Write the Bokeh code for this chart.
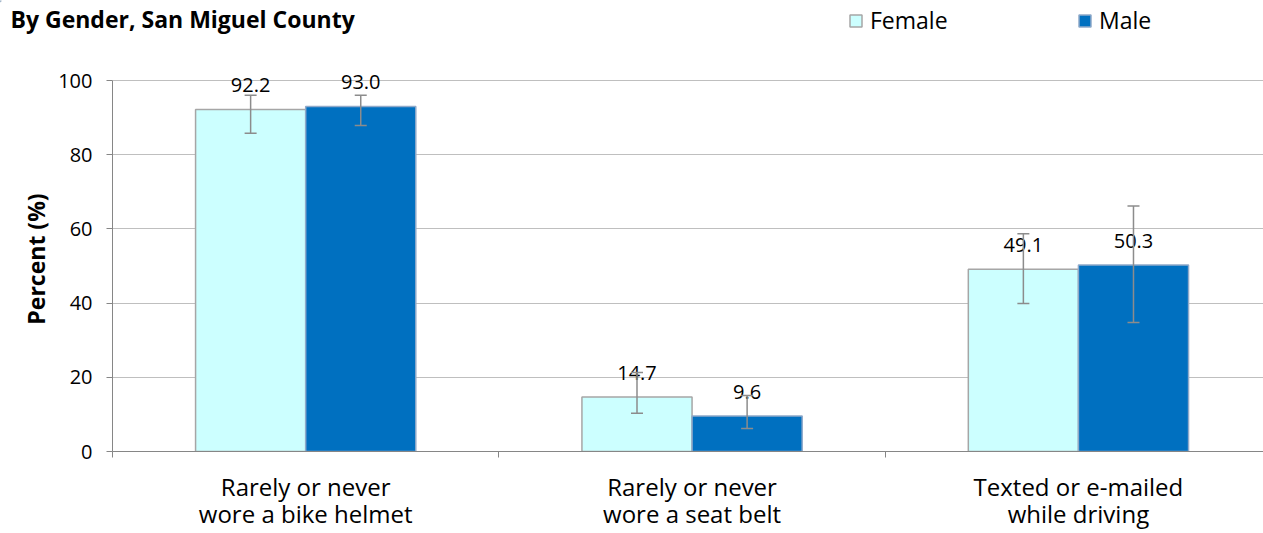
from bokeh.plotting import figure
from bokeh.layouts import column
from bokeh.models import (Range1d, FixedTicker, Whisker, TeeHead, ColumnDataSource,
                          Legend, LegendItem, LinearAxis, Label)
from bokeh.core.properties import value
from bokeh.embed import file_html
from bokeh.resources import INLINE

title_text = "By Gender, San Miguel County"
series_names = ["Female", "Male"]
categories_line1 = ["Rarely or never", "Rarely or never", "Texted or e-mailed"]
categories_line2 = ["wore a bike helmet", "wore a seat belt", "while driving"]
female = [92.2, 14.7, 49.1]
male = [93.0, 9.6, 50.3]
female_lo = [85.8, 10.3, 39.9]
female_hi = [96.0, 21.3, 58.7]
male_lo = [87.9, 6.2, 34.8]
male_hi = [96.0, 15.1, 66.2]
y_ticks = [0, 20, 40, 60, 80, 100]

FONT = "Open Sans"
BAR_W = 0.285
F_FILL, F_LINE = "#ccffff", "#a6a6a6"
M_FILL, M_LINE = "#0070c0", "#8fa9c9"
W = 1263
HEADER_H = 66
idx = list(range(len(female)))
centers = [i + 0.5 for i in idx]

src_f = ColumnDataSource(dict(x=[c - BAR_W / 2 for c in centers], top=female,
                              lo=female_lo, hi=female_hi,
                              lab=[f"{v:.1f}" for v in female]))
src_m = ColumnDataSource(dict(x=[c + BAR_W / 2 for c in centers], top=male,
                              lo=male_lo, hi=male_hi,
                              lab=[f"{v:.1f}" for v in male]))

# ---------- header: title + legend ----------
hdr = figure(width=W, height=HEADER_H, output_backend="svg", toolbar_location=None,
             title=None, x_range=Range1d(0, W), y_range=Range1d(HEADER_H, 0),
             x_axis_location=None, y_axis_location=None,
             min_border=0, min_border_left=0, min_border_right=0,
             min_border_top=0, min_border_bottom=0)
hdr.frame_align = False
hdr.outline_line_color = None
hdr.xgrid.visible = False
hdr.ygrid.visible = False
hdr.border_fill_color = "white"
hdr.add_layout(Label(x=10, y=18, text=title_text, text_baseline="alphabetic",
                     text_align="left", text_font=FONT, text_font_style="bold",
                     text_font_size="23px", text_color="black"))
# legend swatches: off-screen proxies styled like the bars
df = hdr.vbar(x=[-1000], top=[1], width=1, fill_color=F_FILL, line_color=F_LINE, line_width=1.5)
dm = hdr.vbar(x=[-1000], top=[1], width=1, fill_color=M_FILL, line_color=M_LINE, line_width=1.5)
legend = Legend(items=[LegendItem(label=series_names[0], renderers=[df]),
                       LegendItem(label=series_names[1], renderers=[dm])],
                orientation="horizontal", location=(848, HEADER_H - 36),
                glyph_width=15, glyph_height=15, label_standoff=7,
                label_width=195, spacing=12, padding=0, margin=0,
                border_line_color=None, background_fill_alpha=0,
                label_text_font=FONT, label_text_font_size="23px",
                label_text_color="black")
hdr.add_layout(legend, "center")

# ---------- main chart ----------
Y_TOP = 100 + (80 - HEADER_H) / 3.71
p = figure(width=W, height=533 - HEADER_H, output_backend="svg", toolbar_location=None,
           x_range=Range1d(0, 2.979), y_range=Range1d(0, Y_TOP),
           min_border_left=112, min_border_top=0, min_border_bottom=82,
           min_border_right=0)
p.frame_align = False
p.outline_line_color = None
p.background_fill_color = "white"
p.border_fill_color = "white"

p.xgrid.visible = False
p.ygrid.grid_line_color = "#bfbfbf"
p.ygrid.grid_line_width = 1
p.ygrid.ticker = FixedTicker(ticks=y_ticks)

p.yaxis.ticker = FixedTicker(ticks=y_ticks)
p.yaxis.bounds = (0, 100)
p.yaxis.axis_line_color = "#868686"
p.yaxis.major_tick_line_color = "#868686"
p.yaxis.major_tick_out = 6
p.yaxis.major_tick_in = 0
p.yaxis.minor_tick_line_color = None
p.yaxis.major_label_standoff = 14
p.yaxis.major_label_text_font = FONT
p.yaxis.major_label_text_font_size = "20px"
p.yaxis.major_label_text_color = "black"
p.yaxis.axis_label = "Percent (%)"
p.yaxis.axis_label_text_font = FONT
p.yaxis.axis_label_text_font_style = "bold"
p.yaxis.axis_label_text_font_size = "23px"
p.yaxis.axis_label_text_color = "black"
p.yaxis.axis_label_standoff = 3

p.xaxis.ticker = FixedTicker(ticks=centers, minor_ticks=[0, 1, 2, 3])
p.xaxis.major_label_overrides = {c: t for c, t in zip(centers, categories_line1)}
p.xaxis.axis_line_color = "#868686"
p.xaxis.major_tick_line_color = None
p.xaxis.major_tick_out = 0
p.xaxis.major_tick_in = 0
p.xaxis.minor_tick_line_color = "#868686"
p.xaxis.minor_tick_out = 6
p.xaxis.minor_tick_in = 0
p.xaxis.major_label_standoff = 12
p.xaxis.major_label_text_font = FONT
p.xaxis.major_label_text_font_size = "24px"
p.xaxis.major_label_text_color = "black"

ax2 = LinearAxis(ticker=FixedTicker(ticks=centers),
                 major_label_overrides={c: t for c, t in zip(centers, categories_line2)})
ax2.axis_line_color = None
ax2.major_tick_line_color = None
ax2.minor_tick_line_color = None
ax2.major_label_standoff = -15
ax2.major_label_text_font = FONT
ax2.major_label_text_font_size = "24px"
ax2.major_label_text_color = "black"
p.add_layout(ax2, "below")

rf = p.vbar(x="x", top="top", width=BAR_W, bottom=0, source=src_f,
            fill_color=F_FILL, line_color=F_LINE, line_width=1.5)
rm = p.vbar(x="x", top="top", width=BAR_W, bottom=0, source=src_m,
            fill_color=M_FILL, line_color=M_LINE, line_width=1.5)

for src in (src_f, src_m):
    p.text(x="x", y="top", text="lab", source=src, text_align="center",
           text_baseline="bottom", y_offset=-17, text_font=value(FONT),
           text_font_size="20px", text_color="black")

for src in (src_f, src_m):
    w = Whisker(base="x", lower="lo", upper="hi", source=src, level="annotation",
                line_color="#8c8c8c", line_width=1.5,
                upper_head=TeeHead(size=12, line_color="#8c8c8c", line_width=1.5),
                lower_head=TeeHead(size=12, line_color="#8c8c8c", line_width=1.5))
    p.add_layout(w)

layout = column(hdr, p, spacing=0)
open("out.html", "w").write(file_html(layout, INLINE))
